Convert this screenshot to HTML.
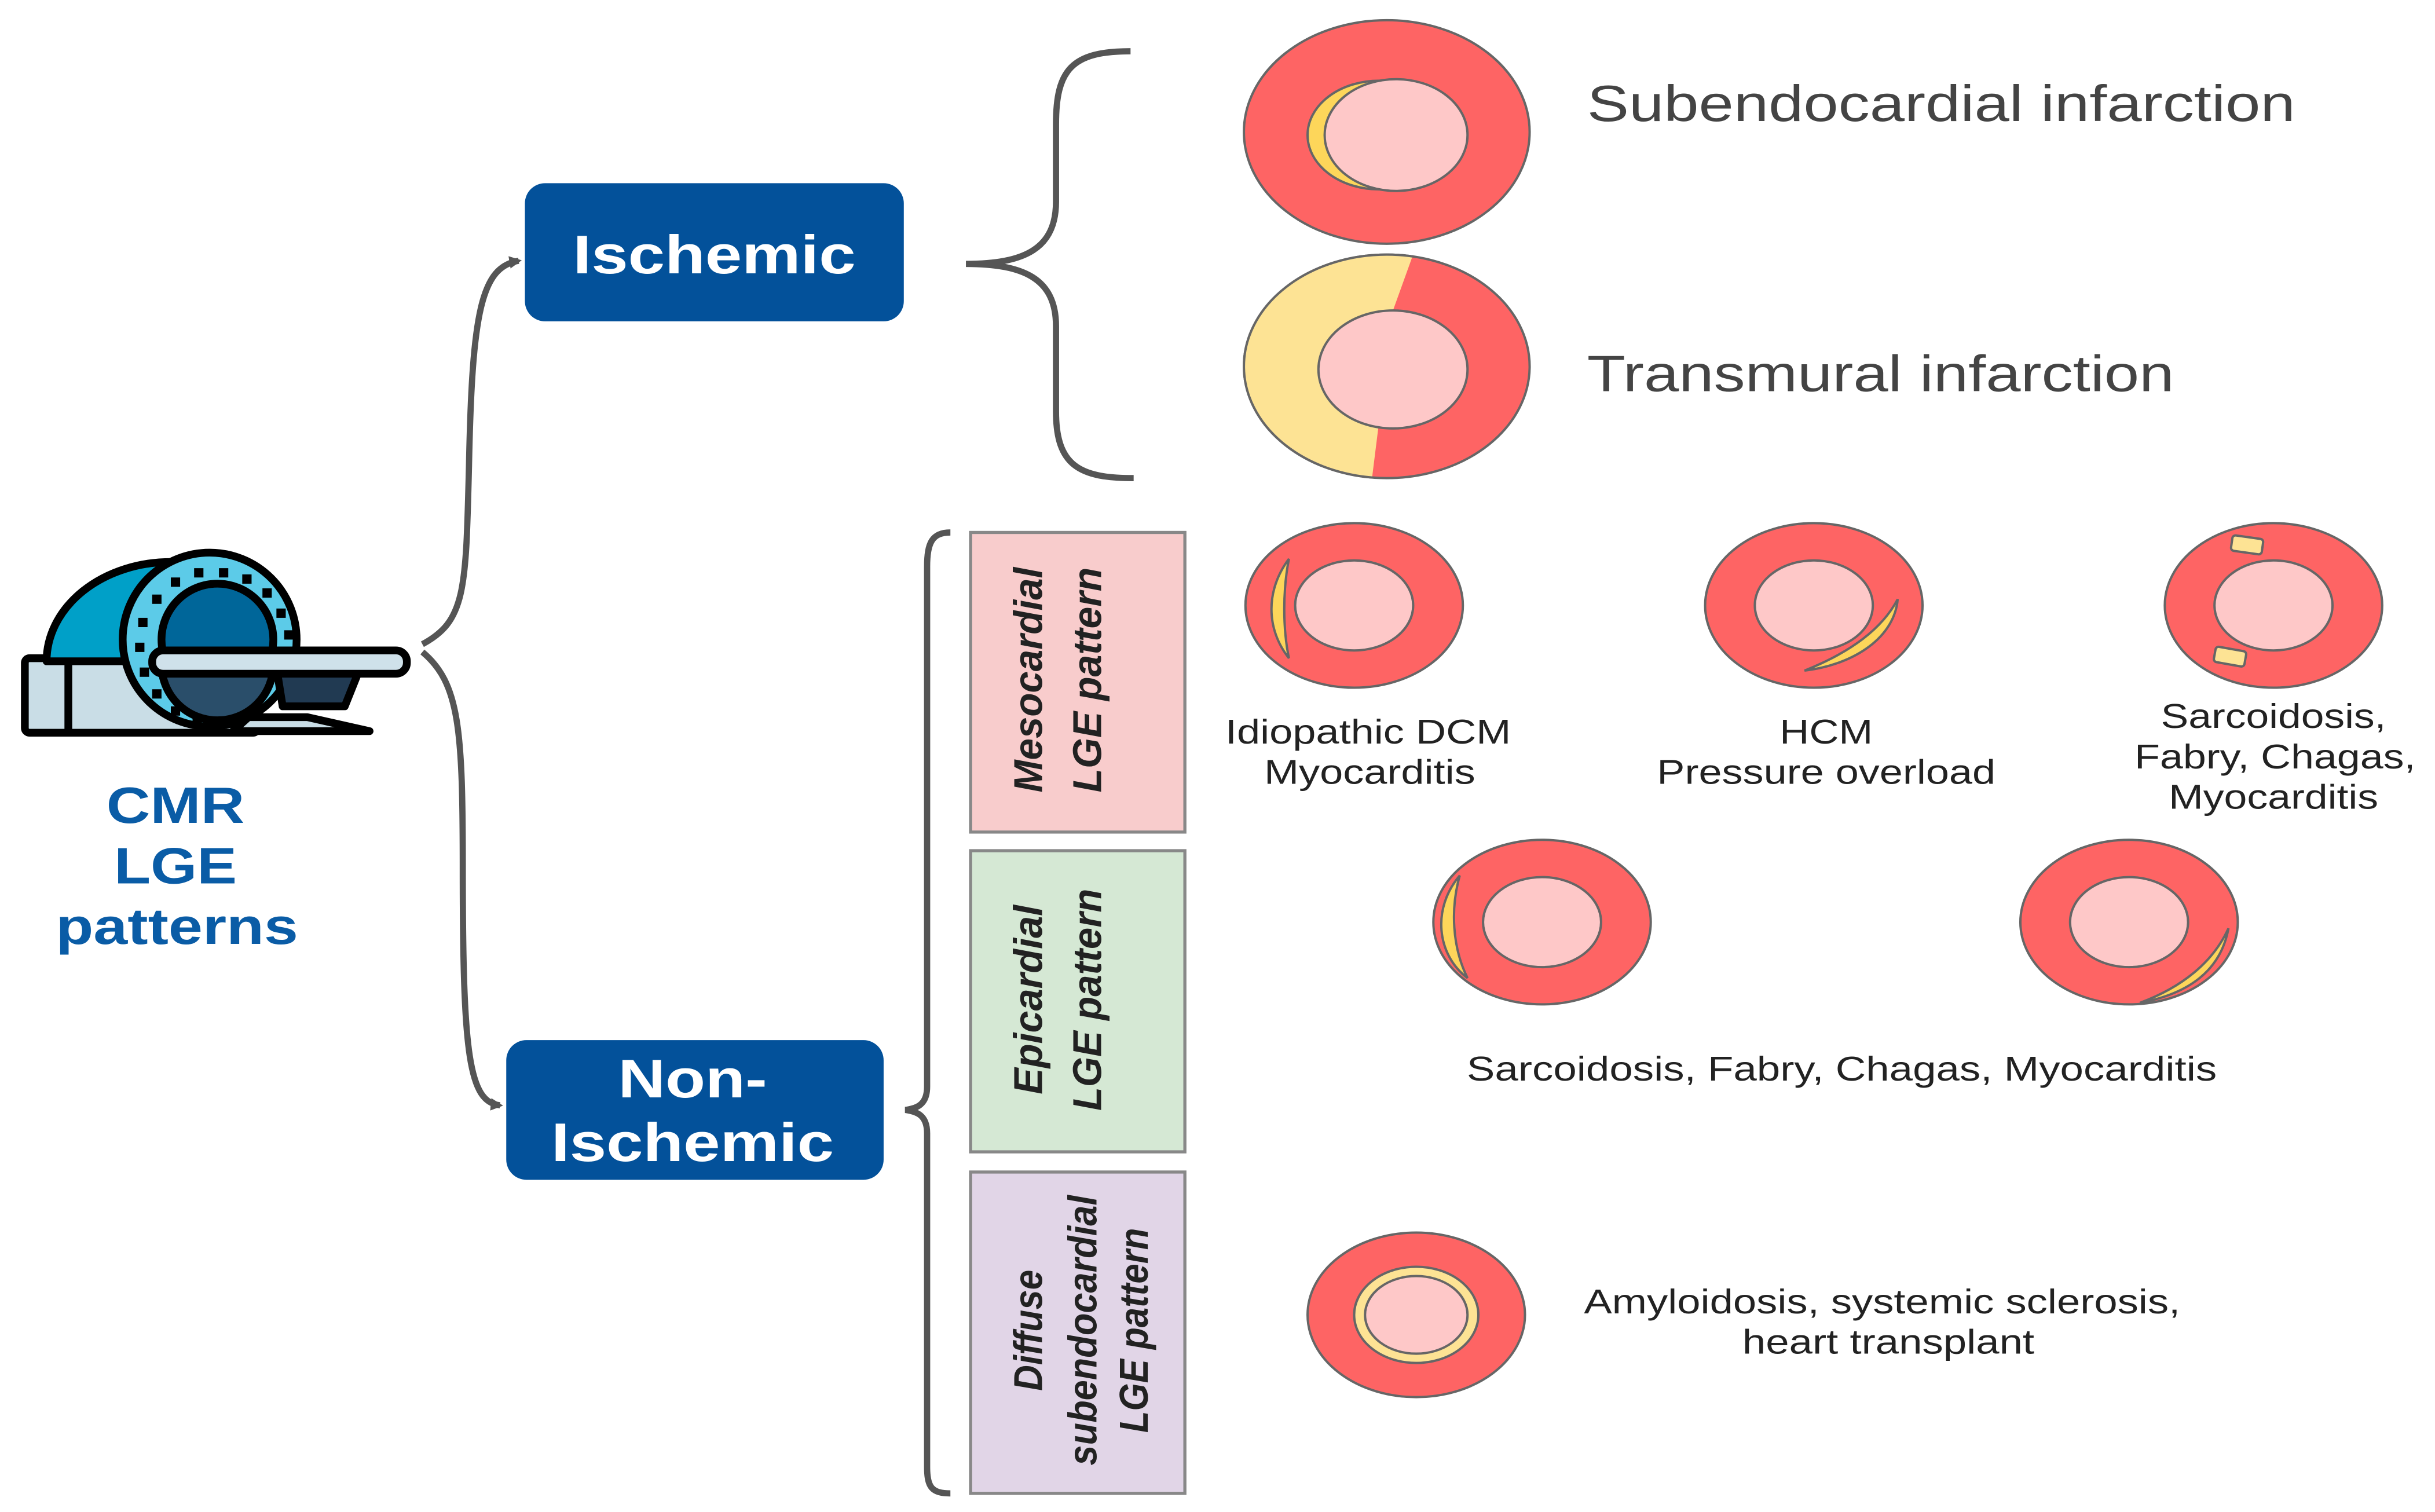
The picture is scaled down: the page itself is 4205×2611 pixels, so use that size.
<!DOCTYPE html>
<html><head><meta charset="utf-8"><style>html,body{margin:0;padding:0;background:#fff}svg{display:block}</style></head>
<body>
<svg width="4205" height="2611" viewBox="0 0 1568 974" preserveAspectRatio="none" xmlns="http://www.w3.org/2000/svg" font-family="Liberation Sans, sans-serif">
<defs>
<marker id="ar" markerWidth="8" markerHeight="8" refX="6" refY="4" orient="auto" markerUnits="userSpaceOnUse"><path d="M0,0 L8,4 L0,8 Z" fill="#555"/></marker>
<clipPath id="leftT"><path d="M790,150 L915,150 L897,200 L882,320 L790,320 Z"/></clipPath>
</defs>
<rect width="1568" height="974" fill="#fff"/>

<!-- MRI icon -->
<g stroke="#000" stroke-width="5" stroke-linejoin="round">
<rect x="16" y="424" width="150" height="48" rx="3" fill="#c9dde6"/>
<line x1="44" y1="427" x2="44" y2="470"/>
<path d="M30,426 A80,64 0 0 1 190,426 Z" fill="#00a0c8"/>
<circle cx="135" cy="412" r="56" fill="#5ccbe8"/>
<circle cx="140" cy="412" r="36" fill="#006699"/>
<path d="M104,428 L176,428 A36,36 0 0 1 104,428 Z" fill="#2a4e6a"/>
<path d="M178,430 L232,430 L222,455 L182,455 Z" fill="#213a52"/>
<path d="M160,462 L198,462 L238,471 L150,471 Z" fill="#c9dde6"/>
<rect x="98" y="419" width="164" height="15" rx="7" fill="#cfe1ea"/>
</g>
<g fill="#000">
<rect x="98" y="383" width="6" height="6"/><rect x="110" y="372" width="6" height="6"/><rect x="125" y="366" width="6" height="6"/><rect x="141" y="366" width="6" height="6"/><rect x="156" y="370" width="6" height="6"/><rect x="169" y="379" width="6" height="6"/><rect x="178" y="392" width="6" height="6"/><rect x="183" y="406" width="6" height="6"/><rect x="89" y="398" width="6" height="6"/><rect x="87" y="414" width="6" height="6"/><rect x="90" y="430" width="6" height="6"/><rect x="98" y="444" width="6" height="6"/><rect x="110" y="455" width="6" height="6"/><rect x="124" y="461" width="6" height="6"/>
</g>
<g fill="#0a5ca6" font-weight="bold" font-size="33" text-anchor="middle" lengthAdjust="spacingAndGlyphs">
<text x="113" y="530" textLength="89" lengthAdjust="spacingAndGlyphs">CMR</text><text x="113" y="569" textLength="79" lengthAdjust="spacingAndGlyphs">LGE</text><text x="114" y="608" textLength="156" lengthAdjust="spacingAndGlyphs">patterns</text>
</g>

<!-- connectors -->
<g fill="none" stroke="#555" stroke-width="4">
<path d="M272,415 C300,400 300,380 302,300 C304,200 310,172 334,168" marker-end="url(#ar)"/>
<path d="M272,420 C296,440 298,470 298,560 C298,680 302,710 322,712" marker-end="url(#ar)"/>
<path d="M728,33 C690,33 680,45 680,80 L680,130 C680,160 660,170 622,170 C660,170 680,180 680,210 L680,265 C680,300 695,308 730,308"/>
<path d="M612,343 C600,343 597,350 597,365 L597,700 C597,712 590,714 583,715 C590,716 597,718 597,730 L597,945 C597,958 600,962 612,962"/>
</g>

<!-- category boxes -->
<rect x="338" y="118" width="244" height="89" rx="13" fill="#03519a"/>
<rect x="326" y="670" width="243" height="90" rx="13" fill="#03519a"/>
<g fill="#fff" font-weight="bold" font-size="35" text-anchor="middle">
<text x="460" y="176" textLength="182" lengthAdjust="spacingAndGlyphs">Ischemic</text>
<text x="446" y="707" textLength="96" lengthAdjust="spacingAndGlyphs">Non-</text><text x="446" y="748" textLength="182" lengthAdjust="spacingAndGlyphs">Ischemic</text>
</g>

<!-- pattern boxes -->
<rect x="625" y="343" width="138" height="193" fill="#f8cccc" stroke="#888" stroke-width="2"/>
<rect x="625" y="548" width="138" height="194" fill="#d5e8d4" stroke="#888" stroke-width="2"/>
<rect x="625" y="755" width="138" height="207" fill="#e1d5e7" stroke="#888" stroke-width="2"/>
<g fill="#222" font-weight="bold" font-style="italic" font-size="26" text-anchor="middle">
<g transform="translate(681,438) rotate(-90)"><text x="0" y="-10" textLength="145" lengthAdjust="spacingAndGlyphs">Mesocardial</text><text x="0" y="28" textLength="145" lengthAdjust="spacingAndGlyphs">LGE pattern</text></g>
<g transform="translate(681,644) rotate(-90)"><text x="0" y="-10" textLength="122" lengthAdjust="spacingAndGlyphs">Epicardial</text><text x="0" y="28" textLength="143" lengthAdjust="spacingAndGlyphs">LGE pattern</text></g>
<g transform="translate(694,857) rotate(-90)"><text x="0" y="-23" textLength="78" lengthAdjust="spacingAndGlyphs">Diffuse</text><text x="0" y="12" textLength="174" lengthAdjust="spacingAndGlyphs">subendocardial</text><text x="0" y="45" textLength="132" lengthAdjust="spacingAndGlyphs">LGE pattern</text></g>
</g>

<!-- ischemic hearts -->
<g stroke="#666" stroke-width="1.5">
<ellipse cx="893" cy="85" rx="92" ry="72" fill="#fe6464"/>
<ellipse cx="888" cy="87" rx="46" ry="35" fill="#fdd65a"/>
<ellipse cx="899" cy="87" rx="46" ry="36" fill="#fec8c8"/>
<ellipse cx="893" cy="236" rx="92" ry="72" fill="#fe6464"/>
<ellipse cx="893" cy="236" rx="92" ry="72" fill="#fde394" clip-path="url(#leftT)"/>
<ellipse cx="897" cy="238" rx="48" ry="38" fill="#fec8c8"/>
</g>
<g fill="#444" font-size="33">
<text x="1022" y="78" textLength="456" lengthAdjust="spacingAndGlyphs">Subendocardial infarction</text>
<text x="1022" y="252" textLength="378" lengthAdjust="spacingAndGlyphs">Transmural infarction</text>
</g>

<!-- mesocardial hearts -->
<g stroke="#666" stroke-width="1.5">
<ellipse cx="872" cy="390" rx="70" ry="53" fill="#fe6464"/>
<path d="M830,360 C815,380 815,405 830,424 C826,405 826,380 830,360 Z" fill="#fdd65a"/>
<ellipse cx="872" cy="390" rx="38" ry="29" fill="#fec8c8"/>
<ellipse cx="1168" cy="390" rx="70" ry="53" fill="#fe6464"/>
<path d="M1222,386 C1220,410 1195,428 1162,432 C1192,420 1212,405 1222,386 Z" fill="#fdd65a"/>
<ellipse cx="1168" cy="390" rx="38" ry="29" fill="#fec8c8"/>
<ellipse cx="1464" cy="390" rx="70" ry="53" fill="#fe6464"/>
<rect x="1437" y="346" width="20" height="10" rx="2" fill="#fde394" transform="rotate(8 1447 351)"/>
<rect x="1426" y="418" width="20" height="10" rx="2" fill="#fde394" transform="rotate(10 1436 423)"/>
<ellipse cx="1464" cy="390" rx="38" ry="29" fill="#fec8c8"/>
</g>
<g fill="#222" font-size="22" text-anchor="middle">
<text x="881" y="479" textLength="184" lengthAdjust="spacingAndGlyphs">Idiopathic DCM</text><text x="882" y="505" textLength="136" lengthAdjust="spacingAndGlyphs">Myocarditis</text>
<text x="1176" y="479" textLength="60" lengthAdjust="spacingAndGlyphs">HCM</text><text x="1176" y="505" textLength="218" lengthAdjust="spacingAndGlyphs">Pressure overload</text>
<text x="1464" y="469" textLength="145" lengthAdjust="spacingAndGlyphs">Sarcoidosis,</text><text x="1465" y="495" textLength="181" lengthAdjust="spacingAndGlyphs">Fabry, Chagas,</text><text x="1464" y="521" textLength="135" lengthAdjust="spacingAndGlyphs">Myocarditis</text>
</g>

<!-- epicardial hearts -->
<g stroke="#666" stroke-width="1.5">
<ellipse cx="993" cy="594" rx="70" ry="53" fill="#fe6464"/>
<path d="M940,564 C922,585 925,615 945,630 C935,610 934,585 940,564 Z" fill="#fdd65a"/>
<ellipse cx="993" cy="594" rx="38" ry="29" fill="#fec8c8"/>
<ellipse cx="1371" cy="594" rx="70" ry="53" fill="#fe6464"/>
<path d="M1435,598 C1430,625 1410,640 1378,646 C1405,636 1425,620 1435,598 Z" fill="#fdd65a"/>
<ellipse cx="1371" cy="594" rx="38" ry="29" fill="#fec8c8"/>
</g>
<text x="1186" y="696" fill="#222" font-size="22" text-anchor="middle" textLength="483" lengthAdjust="spacingAndGlyphs">Sarcoidosis, Fabry, Chagas, Myocarditis</text>

<!-- diffuse heart -->
<g stroke="#666" stroke-width="1.5">
<ellipse cx="912" cy="847" rx="70" ry="53" fill="#fe6464"/>
<ellipse cx="912" cy="847" rx="40" ry="31" fill="#fde394"/>
<ellipse cx="912" cy="847" rx="33" ry="25" fill="#fec8c8"/>
</g>
<g fill="#222" font-size="22" text-anchor="middle">
<text x="1212" y="846" textLength="384" lengthAdjust="spacingAndGlyphs">Amyloidosis, systemic sclerosis,</text><text x="1216" y="872" textLength="188" lengthAdjust="spacingAndGlyphs">heart transplant</text>
</g>
</svg>
</body></html>
